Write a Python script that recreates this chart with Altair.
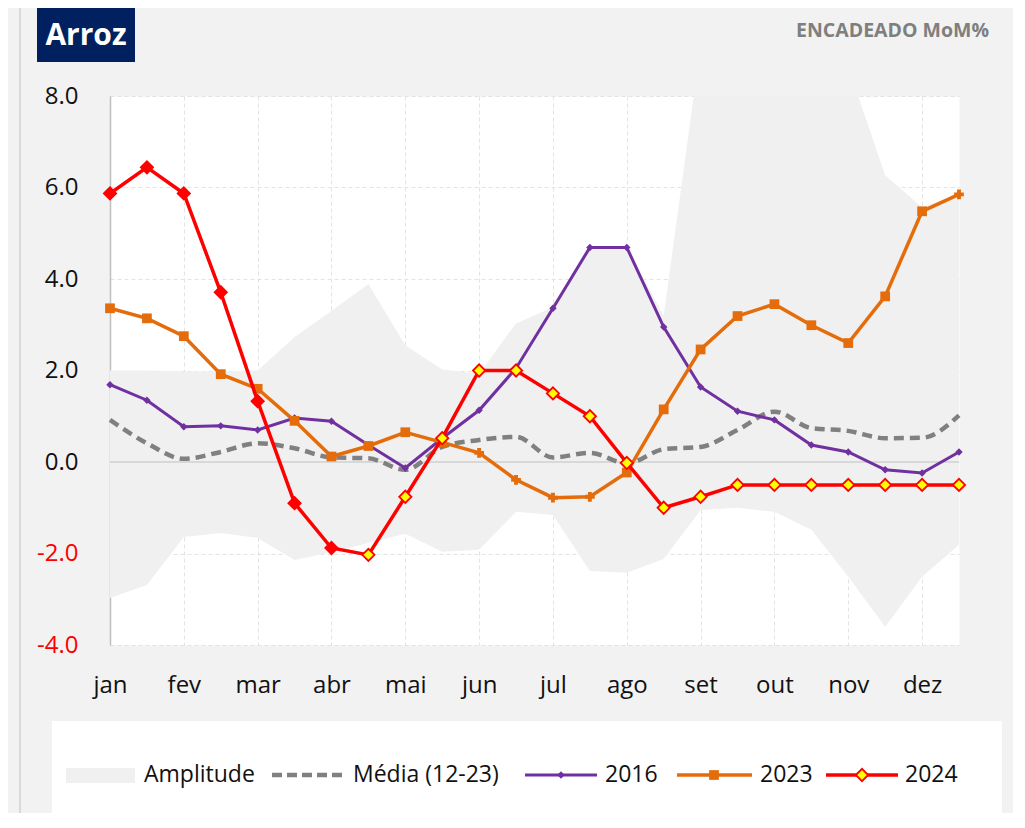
import altair as alt
import pandas as pd

months = ["jan", "fev", "mar", "abr", "mai", "jun", "jul", "ago", "set", "out", "nov", "dez"]
idx = list(range(24))

amp_high = [2.0, 2.0, 1.98, 1.98, 2.0, 2.73, 3.3, 3.89, 2.55, 2.02, 1.93, 3.03,
            3.38, 4.69, 4.69, 3.2, 9.1, 10.0, 10.0, 10.0, 8.63, 6.27, 5.57, 5.85]
amp_low = [-2.97, -2.69, -1.64, -1.55, -1.66, -2.14, -1.97, -1.77, -1.57, -1.96, -1.92, -1.09,
           -1.16, -2.38, -2.42, -2.12, -1.05, -1.0, -1.09, -1.48, -2.51, -3.6, -2.51, -1.81]
media = [0.92, 0.41, 0.07, 0.22, 0.41, 0.3, 0.1, 0.08, -0.17, 0.33, 0.48, 0.55,
         0.1, 0.2, -0.03, 0.28, 0.33, 0.7, 1.1, 0.74, 0.68, 0.52, 0.53, 1.02]
y2016 = [1.69, 1.35, 0.77, 0.79, 0.7, 0.96, 0.89, 0.37, -0.13, 0.52, 1.13, 2.05,
         3.36, 4.69, 4.69, 2.95, 1.64, 1.11, 0.92, 0.37, 0.22, -0.17, -0.24, 0.22]
y2023 = [3.36, 3.14, 2.75, 1.92, 1.6, 0.9, 0.12, 0.35, 0.65, 0.43, 0.2, -0.39,
         -0.78, -0.76, -0.23, 1.15, 2.46, 3.19, 3.45, 2.99, 2.6, 3.62, 5.48, 5.85]
y2024 = [5.87, 6.44, 5.87, 3.71, 1.33, -0.9, -1.88, -2.03, -0.76, 0.52, 2.0, 2.0,
         1.5, 1.0, -0.02, -1.0, -0.76, -0.5, -0.5, -0.5, -0.5, -0.5, -0.5, -0.5]
real_2024_points = 7
star_2023 = [10, 11, 12, 13, 23]
y_ticks = [-4, -2, 0, 2, 4, 6, 8]

legend_labels = ["Amplitude", "Média (12-23)", "2016", "2023", "2024"]

df = pd.DataFrame({"i": idx, "low": amp_low, "high": amp_high, "media": media,
                   "y2016": y2016, "y2023": y2023, "y2024": y2024})
df["tipo24"] = ["real" if i < real_2024_points else "proj" for i in idx]
df["m23"] = ["star" if i in star_2023 else "sq" for i in idx]
df["zero"] = 0.0

W, H = 849, 549
OX, OY = 110, 96  # page position of plot origin
FONT = "Open Sans"

month_arr = "[" + ",".join("'%s'" % m for m in months) + "]"

xs = alt.Scale(domain=[0, 23], nice=False, zero=False)
ys = alt.Scale(domain=[-4, 8], nice=False, zero=False)

x_axis = alt.Axis(values=list(range(0, 24, 2)), labelExpr=month_arr + "[datum.value/2]",
                  title=None, domain=False, ticks=False, labelPadding=28, labelFlush=False,
                  grid=True, gridColor="#e3e3e3", gridDash=[4, 3], gridWidth=1,
                  labelFont=FONT, labelFontSize=24, labelColor="#111111")
y_axis = alt.Axis(values=y_ticks, title=None, domain=True,
                  labelExpr="(datum.value < 0 ? '-' : '') + format(abs(datum.value), '.1f')",
                  domainColor="#bfbfbf", domainWidth=1.5, ticks=False, labelPadding=32,
                  grid=True, gridColor="#e3e3e3", gridDash=[4, 3], gridWidth=1,
                  labelFont=FONT, labelFontSize=24, labelFlush=False,
                  labelColor={"condition": {"test": "datum.value < 0", "value": "#ff0000"},
                              "value": "#111111"})

X = alt.X("i:Q", scale=xs, axis=x_axis, title=None)

def Y(field):
    return alt.Y(field, type="quantitative", scale=ys, axis=y_axis, title=None)

base = alt.Chart(df)

area = base.mark_area(color="#f0f0f0", clip=True, opacity=1).encode(
    x=X, y=Y("low"), y2="high:Q")

zero = base.mark_line(color="#d0d0d0", strokeWidth=1.5).encode(x=X, y=Y("zero"))

media_line = base.mark_line(color="#808080", strokeWidth=4.5, strokeDash=[10, 6],
                            interpolate="monotone").encode(x=X, y=Y("media"))

l2016 = base.mark_line(color="#7030a0", strokeWidth=3).encode(x=X, y=Y("y2016"))
p2016 = base.mark_point(shape="diamond", filled=True, size=55, color="#7030a0", opacity=1).encode(
    x=X, y=Y("y2016"))

l2023 = base.mark_line(color="#e46c0a", strokeWidth=3.5).encode(x=X, y=Y("y2023"))
p2023 = base.mark_point(filled=True, size=95, color="#e46c0a", opacity=1).encode(
    x=X, y=Y("y2023"),
    shape=alt.Shape("m23:N", scale=alt.Scale(domain=["sq", "star"], range=["square", "cross"]),
                    legend=None))

l2024 = base.mark_line(color="#ff0000", strokeWidth=3.5).encode(x=X, y=Y("y2024"))
p2024 = base.mark_point(shape="diamond", filled=True, size=150, stroke="#ff0000",
                        strokeWidth=1.8, opacity=1).encode(
    x=X, y=Y("y2024"),
    fill=alt.Fill("tipo24:N", scale=alt.Scale(domain=["real", "proj"], range=["#ff0000", "#ffff00"]),
                  legend=None))

# ---- decorations (pixel positions relative to plot origin) ----
def px(v):
    return v - OX

def py(v):
    return v - OY

PX = lambda f: alt.X(f, type="quantitative", scale=None, axis=None)
PY = lambda f: alt.Y(f, type="quantitative", scale=None, axis=None)

dec_rect = pd.DataFrame({
    "dx": [px(52), px(37), px(66)],
    "dx2": [px(1002), px(135), px(135)],
    "dy": [py(721), py(8), py(768)],
    "dy2": [py(830), py(62), py(783)],
    "c": ["#ffffff", "#002060", "#f0f0f0"],
})
rects = alt.Chart(dec_rect).mark_rect().encode(
    x=PX("dx"), x2="dx2:Q", y=PY("dy"), y2="dy2:Q",
    color=alt.Color("c:N", scale=None, legend=None),
)

border = alt.Chart(pd.DataFrame({"dx": [px(20)], "dy": [py(0)], "dy2": [py(830)]})).mark_rule(
    color="#d0d0d0", strokeWidth=1.5).encode(x=PX("dx"), y=PY("dy"), y2="dy2:Q")

title_txt = alt.Chart(pd.DataFrame({"dx": [px(86)], "dy": [py(36)], "t": ["Arroz"]})).mark_text(
    font=FONT, fontSize=30, fontWeight="bold", color="white", align="center", baseline="middle").encode(
    x=PX("dx"), y=PY("dy"), text="t:N")

sub_txt = alt.Chart(pd.DataFrame({"dx": [px(989)], "dy": [py(31)], "t": ["ENCADEADO MoM%"]})).mark_text(
    font=FONT, fontSize=19.5, fontWeight="bold", color="#7f7f7f", align="right", baseline="middle").encode(
    x=PX("dx"), y=PY("dy"), text="t:N")

LY = py(775)
leg_text = alt.Chart(pd.DataFrame({
    "dx": [px(144), px(353), px(605), px(760), px(905)],
    "dy": [LY] * 5,
    "t": legend_labels,
})).mark_text(font=FONT, fontSize=23, color="#111111", align="left", baseline="middle").encode(
    x=PX("dx"), y=PY("dy"), text="t:N")

def leg_line(x1, x2, color, width, dash=None):
    kw = dict(color=color, strokeWidth=width)
    if dash:
        kw["strokeDash"] = dash
    return alt.Chart(pd.DataFrame({"dx": [px(x1)], "dx2": [px(x2)], "dy": [LY]})).mark_rule(**kw).encode(
        x=PX("dx"), x2="dx2:Q", y=PY("dy"))

def leg_pt(x, shape, size, fill, stroke=None, sw=0):
    kw = dict(shape=shape, size=size, filled=True, fill=fill, opacity=1)
    if stroke:
        kw["stroke"] = stroke
        kw["strokeWidth"] = sw
    return alt.Chart(pd.DataFrame({"dx": [px(x)], "dy": [LY]})).mark_point(**kw).encode(
        x=PX("dx"), y=PY("dy"))

legend_layers = [
    leg_line(272, 345, "#808080", 4.5, [10, 5]),
    leg_line(525, 597, "#7030a0", 3),
    leg_pt(561, "diamond", 55, "#7030a0"),
    leg_line(677, 752, "#e46c0a", 3.5),
    leg_pt(714, "square", 95, "#e46c0a"),
    leg_line(826, 898, "#ff0000", 3.5),
    leg_pt(862, "diamond", 150, "#ffff00", "#ff0000", 1.8),
]

chart = alt.layer(
    area, rects, border, zero, media_line, l2016, p2016, l2023, p2023, l2024, p2024,
    title_txt, sub_txt, leg_text, *legend_layers
).resolve_scale(x="shared", y="shared").properties(
    width=W, height=H,
    padding={"left": 102, "top": 88, "right": 54, "bottom": 168},
    autosize=alt.AutoSizeParams(type="none"),
).configure(
    background="#f2f2f2"
).configure_view(
    fill="white", stroke="transparent"
)

chart.save("out.html", embed_options={"renderer": "svg", "actions": False})
